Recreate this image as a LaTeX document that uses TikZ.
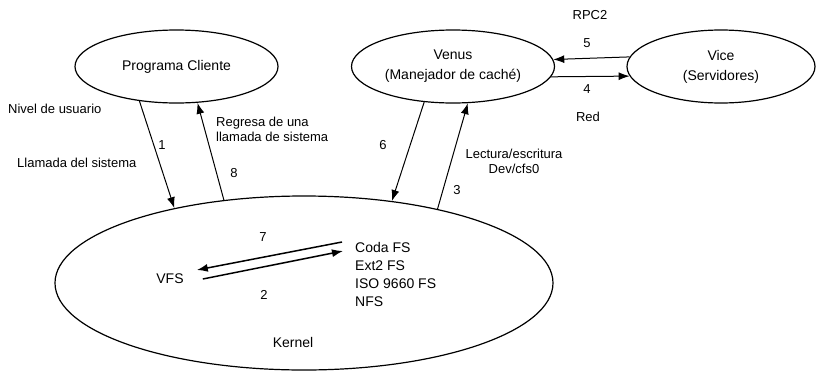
\documentclass[tikz,border=0pt]{standalone}
\usepackage{fontspec}
\setmainfont{Liberation Sans}
\usetikzlibrary{shapes.geometric,arrows.meta}

\begin{document}
\begin{tikzpicture}[x=1pt,y=-1pt,
  elipse/.style={draw,ellipse,line width=1.2pt,inner sep=0pt,align=center,font=\fontsize{14}{20}\selectfont},
  etiq/.style={inner sep=0pt,font=\fontsize{13}{15}\selectfont},
  texto/.style={inner sep=0pt,font=\fontsize{14}{18}\selectfont},
  flecha/.style={-{Latex[length=11pt,width=8pt]},line width=1pt},
  flechak/.style={flecha,line width=1.5pt}]
\useasboundingbox (0,0) rectangle (822,370);

\node[elipse,minimum width=203pt,minimum height=73pt] (cliente) at (176.5,66.5) {Programa Cliente};
\node[elipse,minimum width=203pt,minimum height=73pt] (venus) at (453,66.5) {Venus\\(Manejador de caché)};
\node[elipse,minimum width=188pt,minimum height=73pt] (vice) at (721,66.5) {Vice\\(Servidores)};
\node[elipse,minimum width=498pt,minimum height=174pt] (kernel) at (304,283) {};

\node[texto] (vfs) at (170,279) {VFS};
\node[texto,align=left,anchor=north west] (fs) at (355,242) {Coda FS\\Ext2 FS\\ISO 9660 FS\\NFS};
\node[texto] (knl) at (293,342) {Kernel};

\draw[flecha] (cliente.223) -- (kernel.150);
\draw[flecha] (kernel.134.5) -- (cliente.300);
\draw[flecha] (venus.231.4) -- (kernel.43.5);
\draw[flecha] (kernel.29.5) -- (venus.292.6);
\draw[flecha] (vice.174.7) -- (venus.4.9);
\draw[flecha] (venus.354.5) -- (vice.186);
\draw[flechak] ([xshift=-13pt]fs.north west) -- ([xshift=13pt,yshift=9pt]vfs.east);
\draw[flechak] ([xshift=19pt]vfs.east) -- ([xshift=-12pt,yshift=-9pt]fs.north west);

\node[etiq,anchor=west] (nivel) at (8,109) {Nivel de usuario};
\node[etiq,anchor=west] (llamada) at (17,163) {Llamada del sistema};
\node[etiq,anchor=west,align=left] (regresa) at (216,129) {Regresa de una\\llamada de sistema};
\node[etiq,align=center] (lectura) at (514,161.5) {Lectura/escritura\\Dev/cfs0};
\node[etiq] (rpc) at (590,15) {RPC2};
\node[etiq] (red) at (588,117) {Red};
\node[etiq] (n1) at (162,145) {1};
\node[etiq] (n2) at (264,295) {2};
\node[etiq] (n3) at (457,190) {3};
\node[etiq] (n4) at (587,89) {4};
\node[etiq] (n5) at (587,43) {5};
\node[etiq] (n6) at (383,145) {6};
\node[etiq] (n7) at (263,237) {7};
\node[etiq] (n8) at (234,173) {8};
\end{tikzpicture}
\end{document}
